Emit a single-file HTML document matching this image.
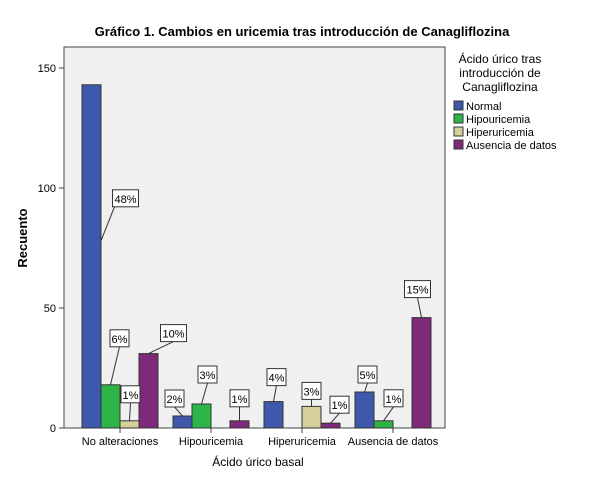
<!DOCTYPE html>
<html><head><meta charset="utf-8"><style>
body{margin:0;background:#fff;font-family:"Liberation Sans",Arial,sans-serif}
svg text{font-family:"Liberation Sans",Arial,sans-serif}
</style></head><body>
<svg id="c" width="604" height="484" xmlns="http://www.w3.org/2000/svg">
<text x="302" y="36" text-anchor="middle" font-size="13" font-weight="bold">Gráfico 1. Cambios en uricemia tras introducción de Canagliflozina</text>
<rect x="64" y="47" width="381" height="381" fill="#f0f0f0" stroke="#444" stroke-width="1"/>
<g id="yaxis"></g><g id="bars"></g><g id="labels"></g>
<text x="27" y="238" transform="rotate(-90 27 238)" text-anchor="middle" font-size="13" font-weight="bold">Recuento</text>
<text x="258" y="466" text-anchor="middle" font-size="12">Ácido úrico basal</text>
<g font-size="12">
<text x="500" y="63" text-anchor="middle">Ácido úrico tras</text>
<text x="500" y="77" text-anchor="middle">introducción de</text>
<text x="500" y="91" text-anchor="middle">Canagliflozina</text>
</g>
<g id="legend"></g>
</svg>
<script>
const categories=["No alteraciones","Hipouricemia","Hiperuricemia","Ausencia de datos"];
const seriesNames=["Normal","Hipouricemia","Hiperuricemia","Ausencia de datos"];
const normal=[143,5,11,15];
const hipo=[18,10,0,3];
const hiper=[3,0,9,0];
const ausencia=[31,3,2,46];
const pctNormal=["48%","2%","4%","5%"];
const pctHipo=["6%","3%","","1%"];
const pctHiper=["1%","","3%",""];
const pctAus=["10%","1%","1%","15%"];
const yTicks=[0,50,100,150];
const colors=["#3e58ac","#2eb548","#d5cf9b","#7e2a7b"];
const S="http://www.w3.org/2000/svg";
const svg=document.getElementById('c');
const y=v=>428-v*2.4;
const xc=i=>120+91*i;
function el(t,a,p){const e=document.createElementNS(S,t);for(const k in a)e.setAttribute(k,a[k]);(p||svg).appendChild(e);return e;}
const ya=document.getElementById('yaxis');
yTicks.forEach(t=>{
 const l=el('line',{x1:59,x2:64,y1:y(t),y2:y(t),stroke:'#444'},ya);
 
 
 const tx=el('text',{x:56,y:y(t)+4,'text-anchor':'end','font-size':11},ya);tx.textContent=t;
 
 
});
categories.forEach((c,i)=>{
 el('line',{x1:xc(i),x2:xc(i),y1:428,y2:433,stroke:'#444'},ya);
 const tx=el('text',{x:xc(i),y:445,'text-anchor':'middle','font-size':11},ya);tx.textContent=c;
 
 
});
const series=[normal,hipo,hiper,ausencia];
const pcts=[pctNormal,pctHipo,pctHiper,pctAus];
// label box-center offsets from bar top-center [series][category] (styling)
const off=[
 [[34,-42],[-8,-17],[3,-24],[3,-17]],
 [[9,-46],[6,-29],[0,0],[10,-22]],
 [[1,-26],[0,0],[0,-15],[0,0]],
 [[25,-20],[0,-22],[9,-18],[-4,-28]]];
const bg=document.getElementById('bars'),lg=document.getElementById('labels');
series.forEach((s,si)=>{
 s.forEach((v,ci)=>{
  const bx=xc(ci)-38+19*si;
  if(v>0){
   const r=el('rect',{x:bx,y:y(v),width:19,height:v*2.4,fill:colors[si],stroke:'#333','stroke-width':1},bg);
   
   
  }
  const p=pcts[si][ci];
  if(p&&v>0){
   const o=off[si][ci];
   const tall=v*2.4>150;
   const ax=tall?bx+19:bx+9.5;
   const aY=tall?y(v)+156:y(v);
   const cx=bx+9.5+o[0], cy=(tall?aY:y(v))+o[1];
   const w=p.length>2?26:19;
   el('line',{x1:ax,y1:aY,x2:tall?cx-w/2+2:cx,y2:cy+8,stroke:'#333'},lg);
   const b=el('rect',{x:cx-w/2,y:cy-9,width:w,height:17,fill:'#fff',stroke:'#333'},lg);
   
   
   const t=el('text',{x:cx,y:cy+4,'text-anchor':'middle','font-size':11},lg);t.textContent=p;
  }
 });
});
const L=document.getElementById('legend');
seriesNames.forEach((n,i)=>{
 const r=el('rect',{x:454,y:101+i*13,width:9,height:9,fill:colors[i],stroke:'#333'},L);
 
 
 const t=el('text',{x:466,y:110+i*13,'font-size':11},L);t.textContent=n;
 
 
});
</script>
</body></html>
